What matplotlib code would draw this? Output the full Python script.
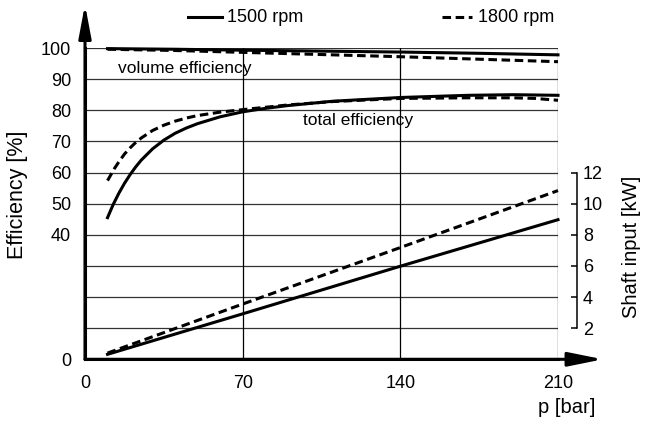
import matplotlib
matplotlib.use('Agg')
import matplotlib.pyplot as plt
from matplotlib.lines import Line2D

plt.rcParams['font.family'] = ['Liberation Sans', 'DejaVu Sans']

# total efficiency [%]
p_tot_1500 = [10, 12.5, 15, 17.5, 20, 22.5, 25, 30, 35, 40, 45, 50, 60, 70, 80, 90, 110, 140, 170, 190, 210]
tot_1500 = [45.5, 49.7, 53.3, 56.5, 59.3, 61.8, 64.0, 67.6, 70.4, 72.6, 74.3, 75.7, 77.9, 79.5, 80.6, 81.5,
            82.9, 84.1, 84.8, 85.0, 84.8]
p_tot_1800 = [10, 13, 15, 17.5, 20, 22, 25, 30, 35, 40, 45, 50, 60, 70, 90, 110, 140, 170, 190, 200, 210]
tot_1800 = [57.4, 61.2, 63.4, 65.9, 67.9, 69.3, 71.1, 73.5, 75.2, 76.5, 77.5, 78.3, 79.4, 80.2, 81.7, 82.8,
            83.8, 84.0, 84.0, 83.8, 83.2]

# volume efficiency [%]
p_vol = [10, 40, 70, 105, 140, 175, 210]
vol_1500 = [99.8, 99.6, 99.3, 99.0, 98.7, 98.3, 97.8]
vol_1800 = [99.6, 99.2, 98.6, 97.9, 97.2, 96.4, 95.6]

# shaft input [kW]
p_kw = [10, 70, 140, 210]
kw_1500 = [0.32, 2.92, 5.98, 8.97]
kw_1800 = [0.40, 3.55, 7.18, 10.84]

x_ticks = [0, 70, 140, 210]
y_ticks = [0, 10, 20, 30, 40, 50, 60, 70, 80, 90, 100]
y_labels = ['0', '', '', '', '40', '50', '60', '70', '80', '90', '100']
kw_ticks = [2, 4, 6, 8, 10, 12]

lw = 2.2
dash = (0, (2.8, 1.5))

fig = plt.figure(figsize=(6.46, 4.25), dpi=100)
ax = fig.add_axes([85 / 646, 1 - 359.3 / 425, 473 / 646, 311.3 / 425])
ax.set_xlim(0, 210)
ax.set_ylim(0, 100)

# grid
for y in y_ticks[1:]:
    ax.axhline(y, color='#333333', lw=0.9, zorder=1)
for x in x_ticks[1:]:
    ax.axvline(x, color='black', lw=0.9, zorder=1)

curve = dict(color='black', lw=lw, zorder=3, solid_joinstyle='round', dash_capstyle='butt', clip_on=False)
ax.plot(p_tot_1500, tot_1500, **curve)
ax.plot(p_tot_1800, tot_1800, ls=dash, **curve)
ax.plot(p_vol, vol_1500, **curve)
ax.plot(p_vol, vol_1800, ls=dash, **curve)

for s in ['top', 'right']:
    ax.spines[s].set_visible(False)
for s in ['left', 'bottom']:
    ax.spines[s].set_linewidth(2.2)

ax.set_xticks(x_ticks)
ax.set_yticks(y_ticks)
ax.set_yticklabels(y_labels)
ax.tick_params(axis='both', length=0, labelsize=13)
ax.tick_params(axis='x', pad=11)
ax.tick_params(axis='y', pad=10)

ax.set_ylabel('Efficiency [%]', fontsize=15.5)
ax.yaxis.set_label_coords(-0.12, 0.528)
ax.text(1.080, -0.156, 'p [bar]', transform=ax.transAxes, ha='right', va='center', fontsize=14.5)

ax.text(14.6, 93.5, 'volume efficiency', fontsize=12.5, va='center')
ax.text(97, 76.8, 'total efficiency', fontsize=12.5, va='center')

# axis arrows
ax.annotate('', xy=(1.095, 0), xytext=(0, 0), xycoords='axes fraction',
            arrowprops=dict(arrowstyle='-|>,head_length=0.42,head_width=0.085',
                            mutation_scale=50, lw=2.2, color='black',
                            shrinkA=0, shrinkB=0), annotation_clip=False)
ax.annotate('', xy=(0, 1.14), xytext=(0, 0), xycoords='axes fraction',
            arrowprops=dict(arrowstyle='-|>,head_length=0.4,head_width=0.075',
                            mutation_scale=50, lw=2.2, color='black',
                            shrinkA=0, shrinkB=0), annotation_clip=False)

# shaft input axis
ax2 = ax.twinx()
ax2.set_ylim(0, 20)
for s in ['top', 'left', 'bottom']:
    ax2.spines[s].set_visible(False)
ax2.spines['right'].set_position(('outward', 14))
ax2.spines['right'].set_bounds(2, 12)
ax2.spines['right'].set_linewidth(1.1)
ax2.set_yticks(kw_ticks)
ax2.tick_params(axis='y', direction='in', length=4.5, width=1.1, pad=4, labelsize=13)
ax2.set_ylabel('Shaft input [kW]', fontsize=14.5)
ax2.yaxis.set_label_coords(1.135, 0.36)
ax2.plot(p_kw, kw_1500, **curve)
ax2.plot(p_kw, kw_1800, ls=dash, **curve)

# legend
fig.add_artist(Line2D([188 / 646, 222 / 646], [1 - 17 / 425] * 2, color='black', lw=lw))
fig.text(227 / 646, 1 - 17 / 425, '1500 rpm', fontsize=13, va='center')
fig.add_artist(Line2D([442 / 646, 472 / 646], [1 - 17 / 425] * 2, color='black', lw=lw, ls=dash))
fig.text(478 / 646, 1 - 17 / 425, '1800 rpm', fontsize=13, va='center')

fig.savefig('out.png', dpi=100)
